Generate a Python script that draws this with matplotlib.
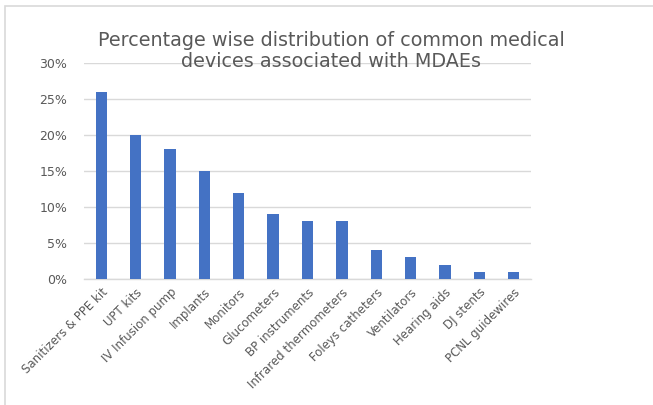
import matplotlib.pyplot as plt
from matplotlib.patches import Rectangle
from matplotlib.ticker import PercentFormatter

devices = ["Sanitizers & PPE kit", "UPT kits", "IV Infusion pump", "Implants",
           "Monitors", "Glucometers", "BP instruments", "Infrared thermometers",
           "Foleys catheters", "Ventilators", "Hearing aids", "DJ stents",
           "PCNL guidewires"]
percent = [26, 20, 18, 15, 12, 9, 8, 8, 4, 3, 2, 1, 1]

W, H = 653, 405
fig = plt.figure(figsize=(W / 100, H / 100), dpi=100)
fig.patches.append(Rectangle((5 / W, -0.1), 1.2, 1 - 6 / H + 0.1,
                             transform=fig.transFigure, fill=False,
                             edgecolor="#d9d9d9", linewidth=1.2))

ax = fig.add_axes([84 / W, 1 - 279 / H, 447 / W, 216 / H])
x = range(len(devices))
ax.bar(x, percent, width=0.33, color="#4472c4", zorder=3)

ax.set_xlim(-0.5, len(devices) - 0.5)
ax.set_ylim(0, 30)
ax.set_yticks(range(0, 31, 5))
ax.yaxis.set_major_formatter(PercentFormatter(decimals=0))
ax.set_xticks(list(x))
ax.set_xticklabels(devices, rotation=45, ha="right", rotation_mode="anchor")
ax.tick_params(length=0, labelsize=9, colors="#595959")
ax.tick_params(axis="y", pad=12)
ax.tick_params(axis="x", pad=5, labelsize=8.5)
ax.grid(axis="y", color="#d9d9d9", linewidth=1, zorder=0)
for s in ["top", "right", "left"]:
    ax.spines[s].set_visible(False)
ax.spines["bottom"].set_color("#d9d9d9")
ax.spines["bottom"].set_linewidth(1)

fig.text(331 / W, 1 - 51 / H,
         "Percentage wise distribution of common medical\ndevices associated with MDAEs",
         ha="center", va="center", fontsize=13.8, color="#595959", linespacing=1.12)

fig.savefig("out.png", dpi=100)
